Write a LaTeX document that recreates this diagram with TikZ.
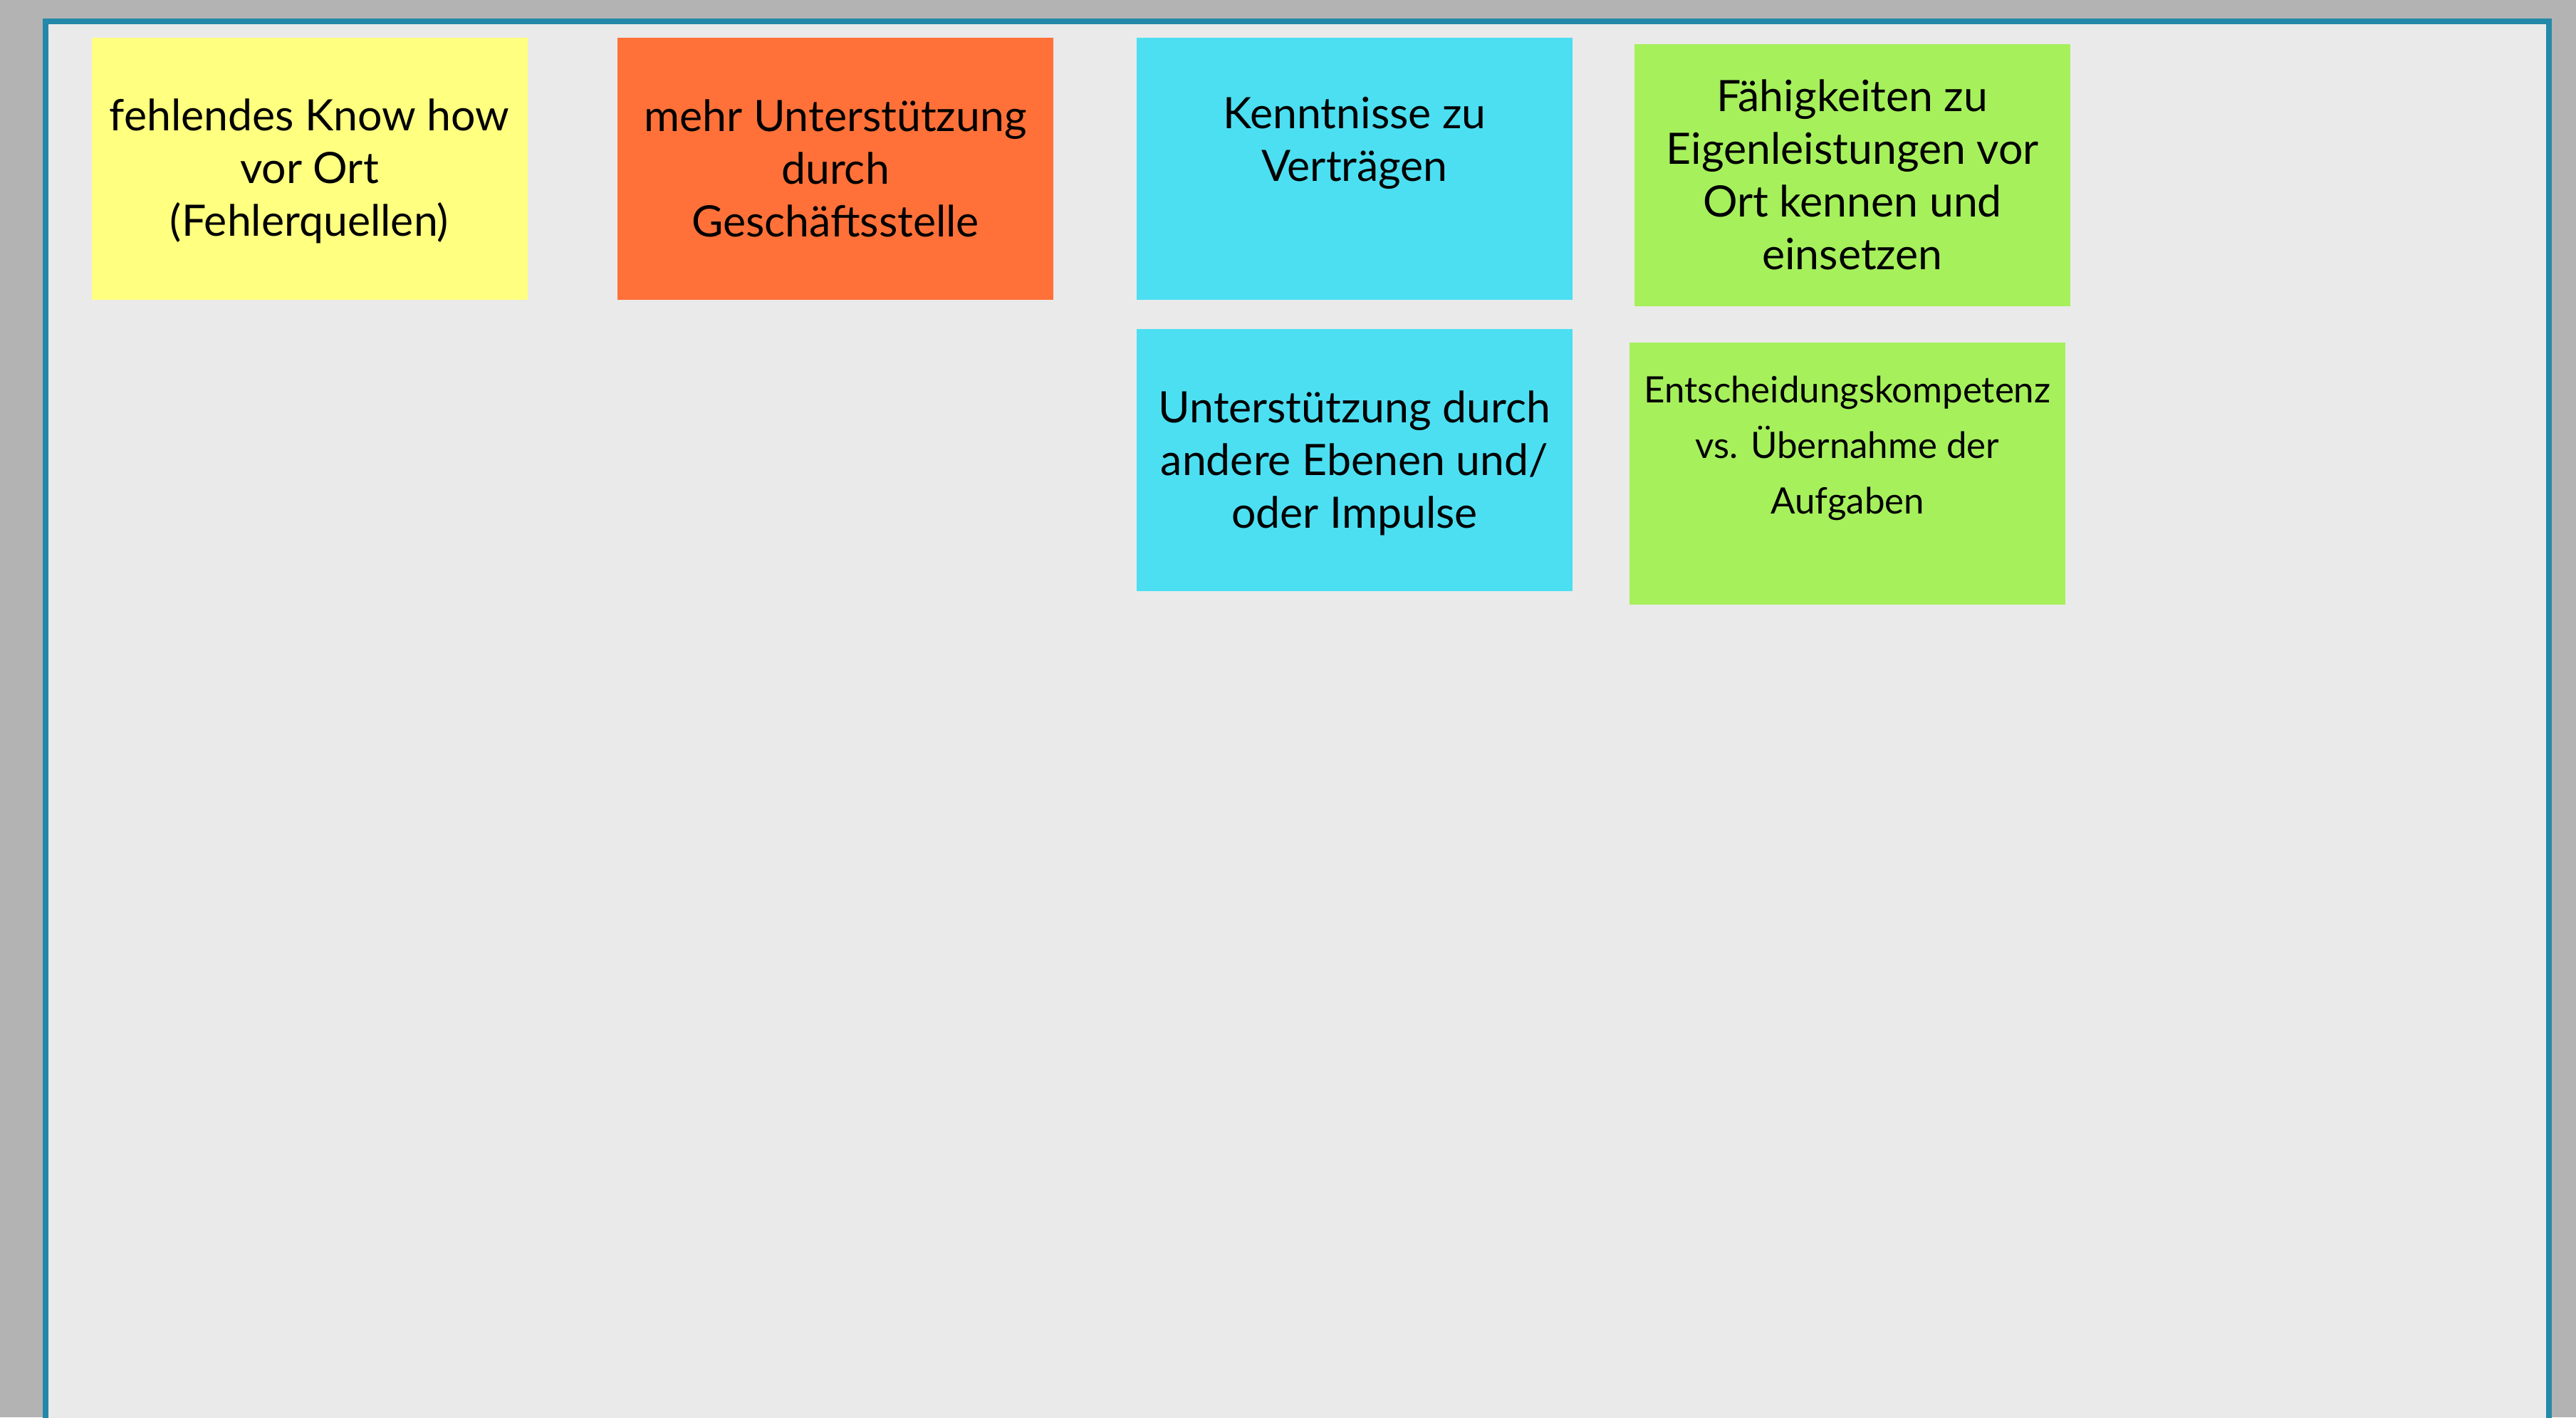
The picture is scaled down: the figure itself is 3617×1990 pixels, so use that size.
\documentclass[tikz,border=0pt]{standalone}
\usepackage{fontspec}
\setmainfont{Lato}
\definecolor{bggray}{RGB}{179,179,179}
\definecolor{canvas}{RGB}{234,234,234}
\definecolor{frame}{RGB}{36,137,169}
\definecolor{sy}{RGB}{255,255,128}
\definecolor{so}{RGB}{255,113,57}
\definecolor{sc}{RGB}{76,223,242}
\definecolor{sg}{RGB}{166,240,92}
\begin{document}
\begin{tikzpicture}[x=0.2pt,y=-0.2pt,
  sticky/.style={draw=none,inner sep=0pt,outer sep=0pt,minimum width=122.4pt,minimum height=73.6pt,anchor=north west},
  stext/.style={align=center,inner sep=0pt,font=\fontsize{12.15}{14.8}\selectfont},
  stextsmall/.style={align=center,inner sep=0pt,font=\fontsize{10.2}{15.6}\selectfont}]
\useasboundingbox (0,0) rectangle (3617,1990);
\clip (0,0) rectangle (3617,1990);
\fill[bggray] (0,0) rectangle (3617,1990);
\draw[frame,fill=canvas,line width=1.6pt] (64,30) rectangle (3579,2030);
% stickies
\node[sticky,fill=sy] (s1) at (129,53) {};
\node[sticky,fill=so] (s2) at (867,53) {};
\node[sticky,fill=sc] (s3) at (1596,53) {};
\node[sticky,fill=sg] (s4) at (2295,62) {};
\node[sticky,fill=sc] (s5) at (1596,462) {};
\node[sticky,fill=sg] (s6) at (2288,481) {};
% texts
\node[stext] (t1) at (434.5,240) {fehlendes Know how\\vor Ort\\(Fehlerquellen)};
\node[stext] (t2) at (1173,236) {mehr Unterstützung\\durch\\Geschäftsstelle};
\node[stext] (t3) at (1902,201) {Kenntnisse zu\\Verträgen};
\node[stext] (t4) at (2601,245) {Fähigkeiten zu\\Eigenleistungen vor\\Ort kennen und\\einsetzen};
\node[stext] (t5) at (1902,650) {Unterstützung durch\\andere Ebenen und/\\oder Impulse};
\node[stextsmall] (t6) at (2594,629) {Entscheidungskompetenz\\vs. Übernahme der\\Aufgaben};
\end{tikzpicture}
\end{document}
